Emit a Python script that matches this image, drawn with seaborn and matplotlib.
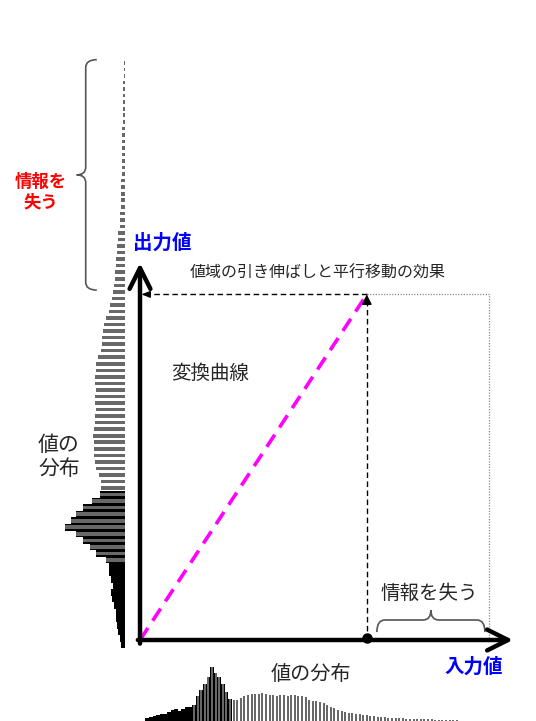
import numpy as np
import matplotlib
matplotlib.use('Agg')
import matplotlib.pyplot as plt
from matplotlib.path import Path
from matplotlib.patches import PathPatch
import seaborn as sns

# histogram of the input values (bin level -> count)
levels = np.arange(2, 92)
counts = [4, 5, 6, 7, 8, 8, 10, 12, 13, 11,
          13, 15, 15, 17, 26, 32, 38, 45, 55, 49,
          45, 38, 30, 23, 22, 22, 24, 26, 27, 28,
          28, 28, 29, 28, 27, 27, 26, 27, 27, 26,
          27, 27, 26, 26, 25, 22, 21, 21, 20, 19,
          17, 15, 14, 12, 11, 10, 9, 9, 8, 8,
          7, 7, 6, 6, 5, 5, 5, 4, 4, 4,
          4, 4, 3, 3, 3, 3, 3, 3, 3, 3,
          2, 2, 2, 2, 2, 2, 2, 1, 1, 1]

# transfer curve: input level where the output saturates, output maximum
in_clip = 63
out_max = 96
in_max = 97
gain = out_max / in_clip
in_line = np.array([0, in_clip])
out_line = gain * in_line

# figure layout (pixels)
W, H = 536, 721
X0, Y0, S = 140, 640, 3.6          # origin of the transfer plot, px per level
BOT_SCALE = 1.0                     # px per count, bottom histogram
LEFT_SCALE = 1.1                    # px per count, left histogram
LEFT_P0, LEFT_STEP = 645, 6.54      # left histogram: px of level 2, px per level
dense_end, mixed_end = 15, 26

sns.set_style('white')
plt.rcParams['font.family'] = ['Noto Sans CJK JP', 'DejaVu Sans']


def px(x, y):
    """pixel position -> main axes data units"""
    return (x - X0) / S, (Y0 - y) / S


def draw_hist(ax, horizontal):
    # dark underlay where the bins are crowded, thin grey bars on top
    lv = np.asarray(levels)
    ct = np.asarray(counts)
    under = lv < mixed_end
    over = lv >= dense_end
    for mask, col, w in [(under, 'black', 1.0), (over, '#686868', 0.55)]:
        if horizontal:
            sns.barplot(x=ct[mask], y=lv[mask], orient='y', native_scale=True,
                        width=w, color=col, errorbar=None, linewidth=0,
                        saturation=1, ax=ax)
        else:
            sns.barplot(x=lv[mask], y=ct[mask], native_scale=True, width=w,
                        color=col, errorbar=None, linewidth=0, saturation=1,
                        ax=ax)


def brace(ax, a, b, base, depth, vertical=False, **kw):
    """curly brace from a to b, ends at 'base', tip pointing by 'depth'"""
    m = (a + b) / 2
    h = depth * 0.55
    r = 2.2
    pts = [(a, base), (a, base + h), (a + r, base + h),
           (m - r, base + h), (m, base + h), (m, base + depth),
           (m, base + h), (m + r, base + h),
           (b - r, base + h), (b, base + h), (b, base)]
    codes = [Path.MOVETO, Path.CURVE3, Path.CURVE3,
             Path.LINETO, Path.CURVE3, Path.CURVE3,
             Path.CURVE3, Path.CURVE3,
             Path.LINETO, Path.CURVE3, Path.CURVE3]
    if vertical:
        pts = [(p[1], p[0]) for p in pts]
    ax.add_patch(PathPatch(Path(pts, codes), fill=False, **kw))


fig = plt.figure(figsize=(W / 100, H / 100), dpi=100)

# bottom histogram (input values)
axb = fig.add_axes([0, 0, 1, 80 / H])
draw_hist(axb, horizontal=False)
axb.set_xlim(-X0 / S, (W - X0) / S)
axb.set_ylim(1, 1 + 80 / BOT_SCALE)
axb.axis('off')
axb.patch.set_alpha(0)

# left histogram (output values after stretching)
axl = fig.add_axes([0, 0, 125 / W, 1])
draw_hist(axl, horizontal=True)
axl.set_xlim(125 / LEFT_SCALE, 0)
axl.set_ylim(2 - (H - LEFT_P0) / LEFT_STEP, 2 + LEFT_P0 / LEFT_STEP)
axl.axis('off')
axl.patch.set_alpha(0)

# main diagram
ax = fig.add_axes([0, 0, 1, 1])
ax.patch.set_alpha(0)

sns.lineplot(x=in_line, y=out_line, color='#ff00ff', linewidth=2.6,
             linestyle=(0, (4, 2.4)), ax=ax)
ax.set_xlim(-X0 / S, (W - X0) / S)
ax.set_ylim((Y0 - H) / S, Y0 / S)
ax.axis('off')

# axes with open arrow heads
axis_style = dict(arrowstyle='->, head_length=1.5, head_width=0.75', lw=3.2,
                  color='black', shrinkA=0, shrinkB=0)
ax.annotate('', xy=(0, 104.7), xytext=(0, -1), arrowprops=axis_style)
ax.annotate('', xy=(103.6, 0), xytext=(-0.6, 0), arrowprops=axis_style)

# dotted input range box
ax.plot([in_clip, in_max, in_max], [out_max + 0.25, out_max + 0.25, 0],
        color='#8a8a8a', lw=0.9, ls=(0, (1, 1.2)))

# dashed arrows: clip point -> output maximum -> output axis
ax.plot([in_clip, in_clip], [0, out_max - 2], color='black', lw=1,
        ls=(0, (4, 2.5)))
ax.annotate('', xy=(in_clip, out_max), xytext=(in_clip, out_max - 2.5),
            arrowprops=dict(arrowstyle='-|>, head_length=0.6, head_width=0.3',
                            color='black', lw=1, shrinkA=0, shrinkB=0))
ax.plot([in_clip, 1.5], [out_max, out_max], color='black', lw=1,
        ls=(0, (4, 2.5)))
ax.annotate('', xy=(0.4, out_max), xytext=(2.5, out_max),
            arrowprops=dict(arrowstyle='-|>, head_length=0.5, head_width=0.2',
                            color='black', lw=1, shrinkA=0, shrinkB=0))
ax.plot([in_clip], [0.5], 'o', color='black', ms=6.5, zorder=5)

# braces for the lost information
brace(ax, in_clip + 2.8, in_max - 1.2, 2.2, 6.1, color='#555555', lw=1.2)
top_disp = axl.transData.transform((0, levels[-1] + 0.5))
top_y = ax.transData.inverted().transform(top_disp)[1]
brace(ax, out_max + 1.2, top_y, -12.0, -5.6, vertical=True,
      color='#555555', lw=1.2)

# labels
blue = '#0000ff'
ax.text(*px(133, 243), '出力値', color=blue, fontsize=14, fontweight='bold',
        ha='left', va='center')
ax.text(*px(474, 667), '入力値', color=blue, fontsize=14, fontweight='bold',
        ha='center', va='center')
ax.text(*px(318, 273), '値域の引き伸ばしと平行移動の効果', fontsize=11.5,
        ha='center', va='center')
ax.text(*px(210, 373), '変換曲線', fontsize=14, ha='center', va='center')
ax.text(*px(311, 675), '値の分布', fontsize=14.5, ha='center', va='center')
ax.text(*px(59, 457), '値の\n分布', fontsize=15, ha='center', va='center',
        linespacing=1.1)
ax.text(*px(41, 192), '情報を\n失う', color='#ff0000', fontsize=12.5,
        fontweight='bold', ha='center', va='center', linespacing=1.15)
ax.text(*px(429, 593), '情報を失う', fontsize=14, ha='center', va='center')

fig.savefig('out.png', dpi=100, facecolor='white')
plt.close(fig)
